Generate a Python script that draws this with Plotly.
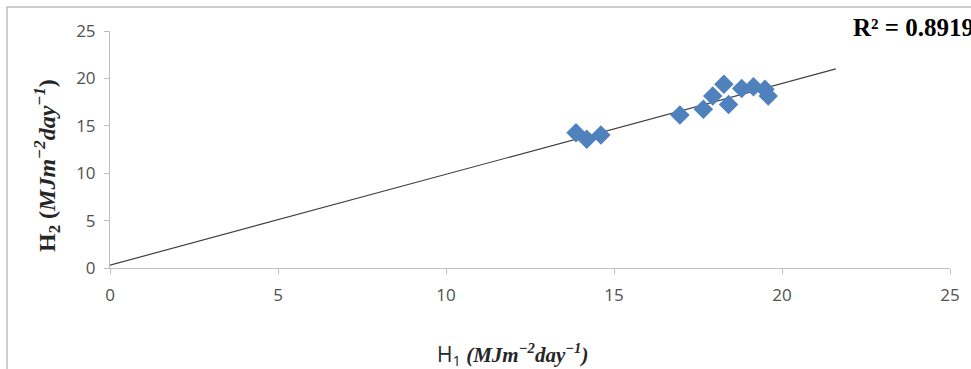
import plotly.graph_objects as go

# Data
h1 = [13.87, 14.19, 14.61, 16.96, 17.66, 17.94, 18.27, 18.41, 18.80, 19.15, 19.49, 19.59]
h2 = [14.27, 13.57, 14.03, 16.14, 16.74, 18.14, 19.38, 17.26, 18.94, 19.12, 18.85, 18.14]
trend_x = [0, 21.6]
trend_y = [0.3, 21.0]
r2_text = "R² = 0.8919"
tick_vals = [0, 5, 10, 15, 20, 25]

fig = go.Figure()
fig.add_trace(go.Scatter(x=trend_x, y=trend_y, mode="lines",
                         line=dict(color="#404040", width=1.2), showlegend=False, hoverinfo="skip"))
fig.add_trace(go.Scatter(x=h1, y=h2, mode="markers",
                         marker=dict(symbol="diamond", size=15, color="#4F81BD"),
                         showlegend=False))

axis_common = dict(range=[0, 25], tickvals=tick_vals, showgrid=False, zeroline=False,
                   showline=True, linecolor="#BFBFBF", linewidth=1,
                   ticks="outside", ticklen=5, tickcolor="#BFBFBF",
                   tickfont=dict(family="Open Sans, Liberation Sans, sans-serif", size=17, color="#505050"))
fig.update_xaxes(**axis_common, ticklabelstandoff=7)
fig.update_yaxes(**axis_common, ticklabelstandoff=5)

fig.update_layout(
    width=971, height=369,
    margin=dict(l=110, r=21, t=31, b=101),
    plot_bgcolor="white", paper_bgcolor="white",
    shapes=[dict(type="rect", xref="paper", yref="paper",
                 x0=(7 - 110) / 840, x1=(990 - 110) / 840,
                 y0=(268 - 400) / 237, y1=(268 - 7) / 237,
                 line=dict(color="#BFBFBF", width=1.5), fillcolor="rgba(0,0,0,0)", layer="below")],
    annotations=[
        dict(xref="paper", yref="paper", x=(512 - 110) / 840, y=(268 - 355) / 237,
             text="<span style='font-family:Open Sans'>H<sub>1</sub></span> <b><i>(MJm<sup>−2</sup>day<sup>−1</sup>)</i></b>",
             showarrow=False,
             font=dict(family="Liberation Serif, DejaVu Serif, serif", size=21, color="#262626"),
             xanchor="center", yanchor="middle"),
        dict(xref="paper", yref="paper", x=(47 - 110) / 840, y=(268 - 166) / 237,
             text="<b>H<sub>2</sub> (<i>MJm<sup>−2</sup>day<sup>−1</sup></i>)</b>", showarrow=False,
             textangle=-90,
             font=dict(family="Liberation Serif, DejaVu Serif, serif", size=24, color="#262626"),
             xanchor="center", yanchor="middle"),
        dict(xref="paper", yref="paper", x=(851 - 110) / 840, y=(268 - 28) / 237,
             text="<b>" + r2_text + "</b>", showarrow=False,
             font=dict(family="Liberation Serif, DejaVu Serif, serif", size=25, color="#000000"),
             xanchor="left", yanchor="middle"),
    ],
)

fig.write_html("out.html", config={"displayModeBar": False},
               post_script="document.body.style.margin='0';document.body.style.overflow='hidden';")
